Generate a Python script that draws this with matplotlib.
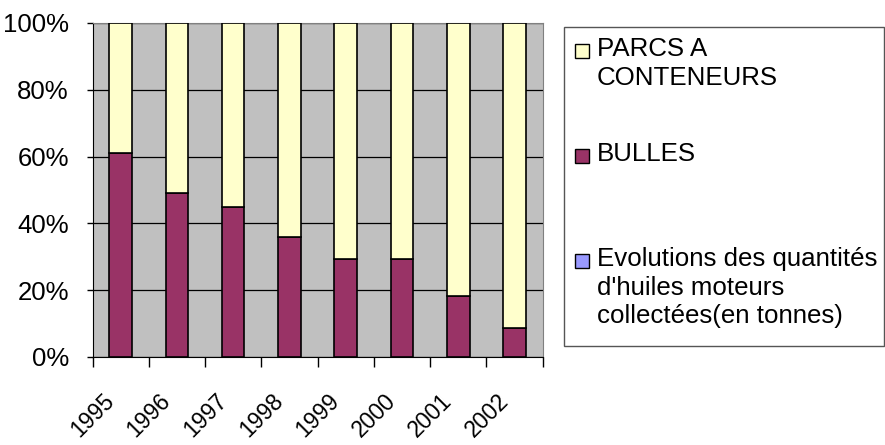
import matplotlib.pyplot as plt
import numpy as np
from matplotlib.patches import Rectangle
from matplotlib.transforms import ScaledTranslation

plt.rcParams["font.family"] = ["Liberation Sans", "DejaVu Sans"]

years = ["1995", "1996", "1997", "1998", "1999", "2000", "2001", "2002"]
bulles = [61.0, 49.2, 44.9, 35.9, 29.3, 29.3, 18.4, 8.8]
parcs = [100 - b for b in bulles]
evolutions = [0, 0, 0, 0, 0, 0, 0, 0]

labels = ["PARCS A\nCONTENEURS", "BULLES",
          "Evolutions des quantités\nd'huiles moteurs\ncollectées(en tonnes)"]
colors = ["#FFFFCC", "#993366", "#9999FF"]

fig = plt.figure(figsize=(8.85, 4.45), dpi=100)
W, H = 885, 445
ax = fig.add_axes([92.5 / W, 1 - 357 / H, (542.7 - 92.5) / W, (357 - 23) / H])
ax.set_facecolor("#C0C0C0")

x = np.arange(len(years))
bw = 0.4
ax.bar(x, evolutions, bw, color=colors[2], edgecolor="black", linewidth=1.2, zorder=3)
ax.bar(x, bulles, bw, bottom=evolutions, color=colors[1], edgecolor="black", linewidth=1.2, zorder=3)
ax.bar(x, parcs, bw, bottom=np.array(bulles) + np.array(evolutions), color=colors[0],
       edgecolor="black", linewidth=1.2, zorder=3)

ax.set_xlim(-0.5, len(years) - 0.5)
ax.set_ylim(0, 100)
ax.set_yticks(range(0, 101, 20))
ax.set_yticklabels(["{}%".format(v) for v in range(0, 101, 20)])
ax.yaxis.grid(True, color="black", linewidth=0.9, zorder=1)
ax.set_axisbelow(True)

ax.set_xticks(x)
ax.set_xticklabels(years, rotation=45, ha="right", va="top", rotation_mode="anchor")
ax.set_xticks(np.arange(-0.5, len(years)), minor=True)
ax.tick_params(axis="x", which="major", length=0, pad=23, labelsize=16.5)
ax.tick_params(axis="x", which="minor", length=7, width=1, color="black")
ax.tick_params(axis="y", length=4, width=1, pad=13, labelsize=18.5)
for lab in ax.get_xticklabels():
    lab.set_transform(lab.get_transform() + ScaledTranslation(-18 / 100, 0, fig.dpi_scale_trans))

for side in ["top", "right"]:
    ax.spines[side].set_color("#808080")
for side in ["left", "bottom"]:
    ax.spines[side].set_color("black")

# legend box, Excel style
fig.patches.append(Rectangle((564 / W, 1 - 346 / H), (884 - 564) / W, (346 - 27) / H,
                             transform=fig.transFigure, facecolor="white",
                             edgecolor="#555555", linewidth=1))
entry_first_line = [51, 156, 261]
for lab, col, yc in zip(labels, colors, entry_first_line):
    fig.patches.append(Rectangle((575 / W, 1 - (yc + 7) / H), 14 / W, 14 / H,
                                 transform=fig.transFigure, facecolor=col,
                                 edgecolor="black", linewidth=1))
    fig.text(597 / W, 1 - (yc - 14) / H, lab, fontsize=18.6, va="top", ha="left",
             linespacing=1.25)

fig.savefig("out.png", dpi=100)
